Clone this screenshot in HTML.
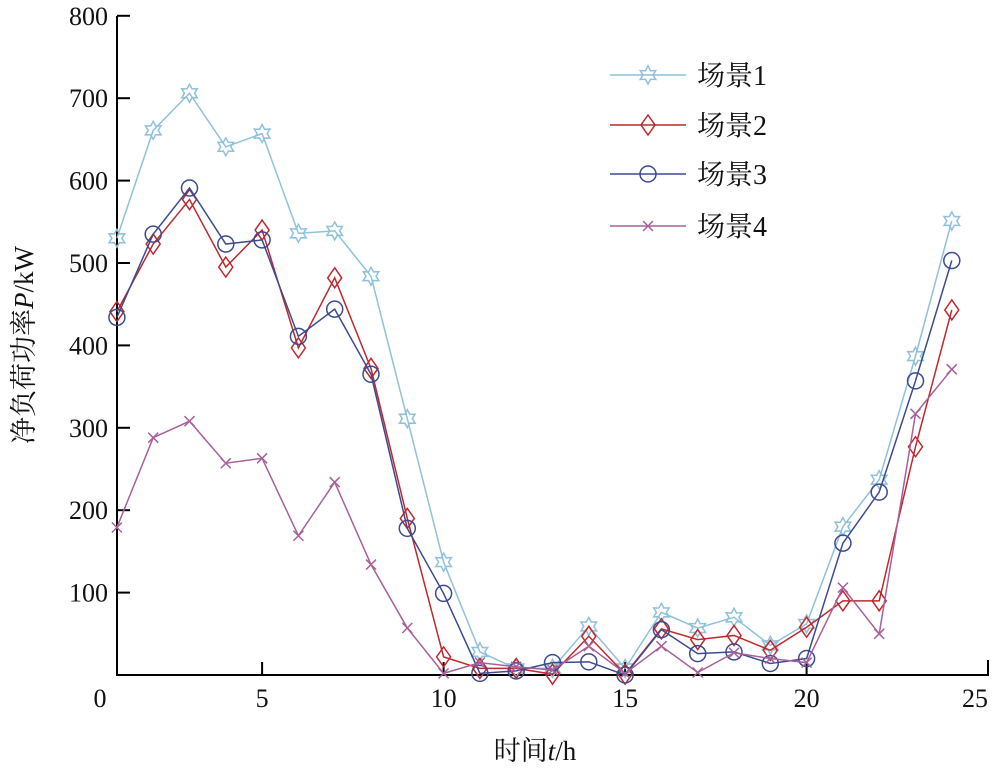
<!DOCTYPE html>
<html><head><meta charset="utf-8"><style>
html,body{margin:0;padding:0;background:#fff}
svg text{font-family:"Liberation Serif","Noto Serif CJK SC",serif;fill:#111}
</style></head><body>
<svg id="c" width="1000" height="774" xmlns="http://www.w3.org/2000/svg"></svg>
<script>
const hours=[1,2,3,4,5,6,7,8,9,10,11,12,13,14,15,16,17,18,19,20,21,22,23,24];
const scene1=[530,661,706,641,657,536,539,484,311,137,28,8,8,59,8,76,57,70,36,62,180,237,387,551];
const scene2=[441,523,577,495,540,397,482,372,190,22,8,8,1,47,1,56,43,48,30,58,90,90,277,443];
const scene3=[434,535,591,523,528,411,444,365,178,99,2,5,15,16,0,55,26,28,14,20,160,222,357,503];
const scene4=[179,288,308,257,263,169,234,134,57,2,15,10,6,35,2,35,3,27,20,15,106,50,317,371];
const xTicks=[5,10,15,20,25];
const yTicks=[100,200,300,400,500,600,700,800];
const seriesNames=["场景1","场景2","场景3","场景4"];
const NS="http://www.w3.org/2000/svg";
const svg=document.getElementById('c');
const X=v=>80.6+36.3*v, Y=v=>675-0.824*v;
function mk(tag,attrs,parent){const e=document.createElementNS(NS,tag);for(const k in attrs)e.setAttribute(k,attrs[k]);(parent||svg).appendChild(e);return e;}
const axes=mk('g',{});


mk('path',{d:`M117,16 V675 H988 V660`,fill:'none',stroke:'#000','stroke-width':2},axes);
const lab0=mk('text',{x:100,y:707,'font-size':26,'text-anchor':'middle'},axes);lab0.textContent='0';


xTicks.forEach(t=>{
  if(t<25) mk('line',{x1:X(t),x2:X(t),y1:675,y2:662,stroke:'#000','stroke-width':2},axes);
  const tx=mk('text',{x:t===25?975:X(t),y:707,'font-size':26,'text-anchor':'middle'},axes);tx.textContent=t;
  
  
});
yTicks.forEach(t=>{
  mk('line',{x1:117,x2:130,y1:Y(t),y2:Y(t),stroke:'#000','stroke-width':2},axes);
  const ty=mk('text',{x:108,y:Y(t)+9,'font-size':26,'text-anchor':'end'},axes);ty.textContent=t;
  
  
});
const xt=mk('text',{x:535,y:760,'font-size':27,'text-anchor':'middle'});
xt.innerHTML='时间<tspan font-style="italic">t</tspan>/h';


const yt=mk('text',{x:0,y:0,'font-size':27,'text-anchor':'middle',transform:'translate(33,345) rotate(-90)'});
yt.innerHTML='净负荷功率<tspan font-style="italic">P</tspan>/kW';


const colors=['#8fc1dc','#c0282d','#3c4a90','#a8609a'];
function marker(type,x,y,c,g){
  if(type===0){const r=9,r2=5;let p=[];for(let i=0;i<12;i++){const a=-Math.PI/2+i*Math.PI/6,rr=i%2?r2:r;p.push((x+rr*Math.cos(a)).toFixed(1)+','+(y+rr*Math.sin(a)).toFixed(1));}
    return mk('polygon',{points:p.join(' '),fill:'none',stroke:c,'stroke-width':1.5},g);}
  if(type===1)return mk('polygon',{points:`${x},${y-10} ${x+7},${y} ${x},${y+10} ${x-7},${y}`,fill:'none',stroke:c,'stroke-width':1.5},g);
  if(type===2)return mk('circle',{cx:x,cy:y,r:8,fill:'none',stroke:c,'stroke-width':1.5},g);
  return mk('path',{d:`M${x-5},${y-5}L${x+5},${y+5}M${x-5},${y+5}L${x+5},${y-5}`,stroke:c,'stroke-width':1.5},g);
}
[scene1,scene2,scene3,scene4].forEach((s,i)=>{
  const g=mk('g',{});
  
  
  mk('polyline',{points:s.map((v,j)=>X(hours[j])+','+Y(v)).join(' '),fill:'none',stroke:colors[i],'stroke-width':1.5},g);
  s.forEach((v,j)=>{const m=marker(i,X(hours[j]),Y(v),colors[i],g);
    
    });
  const ly=[75,125,174,226][i];
  const lg=mk('g',{});
  
  
  mk('line',{x1:610,x2:686,y1:ly,y2:ly,stroke:colors[i],'stroke-width':1.5},lg);
  marker(i,648,ly,colors[i],lg);
  const t=mk('text',{x:697,y:ly+10,'font-size':28},lg);t.textContent=seriesNames[i];
});
</script>
</body></html>
